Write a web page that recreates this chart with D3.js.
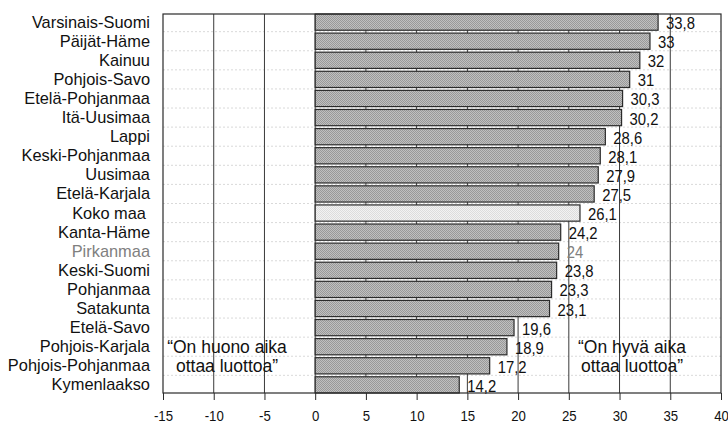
<!DOCTYPE html>
<html>
<head>
<meta charset="utf-8">
<script src="https://cdn.jsdelivr.net/npm/d3@7"></script>
<style>
  body { margin: 0; background: #fff; }
  svg { display: block; }
</style>
</head>
<body>
<div id="chart"></div>
<script>
// regions, in the order they are drawn from top to bottom
let regions = ["Varsinais-Suomi", "Päijät-Häme", "Kainuu", "Pohjois-Savo", "Etelä-Pohjanmaa",
  "Itä-Uusimaa", "Lappi", "Keski-Pohjanmaa", "Uusimaa", "Etelä-Karjala", "Koko maa",
  "Kanta-Häme", "Pirkanmaa", "Keski-Suomi", "Pohjanmaa", "Satakunta", "Etelä-Savo",
  "Pohjois-Karjala", "Pohjois-Pohjanmaa", "Kymenlaakso"];

let values = [33.8, 33, 32, 31, 30.3, 30.2, 28.6, 28.1, 27.9, 27.5, 26.1,
  24.2, 24, 23.8, 23.3, 23.1, 19.6, 18.9, 17.2, 14.2];

let xTicks = [-15, -10, -5, 0, 5, 10, 15, 20, 25, 30, 35, 40];
let leftNote = ["\u201COn huono aika", "ottaa luottoa\u201D"];
let rightNote = ["\u201COn hyv\u00E4 aika", "ottaa luottoa\u201D"];

let data = regions.map((r, i) => ({ name: r, value: values[i] }));

let svgWidth = 728;
let svgHeight = 424;

let margin = { top: 14, right: 7, bottom: 31, left: 163 };
let plotBottom = svgHeight - margin.bottom;
let plotRight = svgWidth - margin.right;

let font = "'Liberation Sans', Arial, sans-serif";

let svg = d3.select("#chart")
  .append("svg")
  .attr("width", svgWidth)
  .attr("height", svgHeight);

// stippled fills like the printed original
let defs = svg.append("defs");
function stipple(id, a, b) {
  let p = defs.append("pattern")
    .attr("id", id)
    .attr("width", 2).attr("height", 2)
    .attr("patternUnits", "userSpaceOnUse");
  p.append("rect").attr("width", 2).attr("height", 2).attr("fill", a);
  p.append("rect").attr("width", 1).attr("height", 1).attr("fill", b);
  p.append("rect").attr("x", 1).attr("y", 1).attr("width", 1).attr("height", 1).attr("fill", b);
}
stipple("darkDots", "#c0c0c0", "#999999");
stipple("lightDots", "#f2f2f2", "#dcdcdc");

let x = d3.scaleLinear()
  .domain([-15, 40])
  .range([margin.left, plotRight]);

let y = d3.scaleBand()
  .domain(regions)
  .range([margin.top, plotBottom])
  .paddingInner(0.15)
  .paddingOuter(0);

// faint dotted rules between rows
let gaps = regions.slice(1).map(r => y(r) - (y.step() - y.bandwidth()) / 2);
svg.append("g")
  .selectAll("line")
  .data(gaps)
  .enter().append("line")
  .attr("x1", margin.left)
  .attr("x2", plotRight)
  .attr("y1", d => d)
  .attr("y2", d => d)
  .attr("stroke", "#cfcfcf")
  .attr("stroke-width", 0.8)
  .attr("stroke-dasharray", "2,2");

// vertical grid
svg.append("g")
  .selectAll("line")
  .data(xTicks.slice(1, -1))
  .enter().append("line")
  .attr("x1", d => x(d))
  .attr("x2", d => x(d))
  .attr("y1", margin.top)
  .attr("y2", plotBottom)
  .attr("stroke", "#3a3a3a")
  .attr("stroke-width", 1);

// bars
svg.append("g")
  .selectAll("rect")
  .data(data)
  .enter().append("rect")
  .attr("x", x(0))
  .attr("y", d => y(d.name))
  .attr("width", d => x(d.value) - x(0))
  .attr("height", y.bandwidth())
  .attr("fill", d => d.name === "Koko maa" ? "url(#lightDots)" : "url(#darkDots)")
  .attr("stroke", "#2a2a2a")
  .attr("stroke-width", 1.2);

// frame
svg.append("rect")
  .attr("x", margin.left)
  .attr("y", margin.top)
  .attr("width", plotRight - margin.left)
  .attr("height", plotBottom - margin.top)
  .attr("fill", "none")
  .attr("stroke", "#2a2a2a")
  .attr("stroke-width", 1.2);

// x axis
let xAxis = d3.axisBottom(x)
  .tickValues(xTicks)
  .tickSize(7)
  .tickFormat(d => String(d));

let axisG = svg.append("g")
  .attr("transform", `translate(0, ${plotBottom})`)
  .call(xAxis);
axisG.select(".domain").remove();
axisG.selectAll(".tick line").attr("stroke", "#2a2a2a");
axisG.selectAll(".tick text")
  .attr("y", 28)
  .attr("dy", 0)
  .attr("transform", "scale(0.88, 1)")
  .attr("fill", "#111")
  .style("font-family", font)
  .style("font-size", "15px");

// region names
let labelColor = d => d.name === "Pirkanmaa" ? "#808080" : "#111";
svg.append("g")
  .selectAll("text")
  .data(data)
  .enter().append("text")
  .attr("x", d => d.name === "Koko maa" ? 146 : 150)
  .attr("y", d => y(d.name) + y.bandwidth() / 2 + 5.5)
  .attr("text-anchor", "end")
  .attr("fill", labelColor)
  .style("font-family", font)
  .style("font-size", "16.4px")
  .text(d => d.name);

// value labels, slightly condensed
svg.append("g")
  .selectAll("text")
  .data(data)
  .enter().append("text")
  .attr("transform", d => `translate(${x(d.value) + 8}, ${y(d.name) + y.bandwidth() / 2 + 7}) scale(0.9, 1)`)
  .attr("fill", labelColor)
  .style("font-family", font)
  .style("font-size", "16.5px")
  .text(d => String(d.value).replace(".", ","));

// the two quotes
function note(lines, cx) {
  svg.append("text")
    .attr("text-anchor", "middle")
    .attr("fill", "#111")
    .style("font-family", font)
    .style("font-size", "17.5px")
    .selectAll("tspan")
    .data(lines)
    .enter().append("tspan")
    .attr("x", cx)
    .attr("y", (d, i) => y("Pohjois-Karjala") + y.bandwidth() / 2 + 6 + i * 19.5)
    .text(d => d);
}
note(leftNote, 227);
note(rightNote, 632);
</script>
</body>
</html>
